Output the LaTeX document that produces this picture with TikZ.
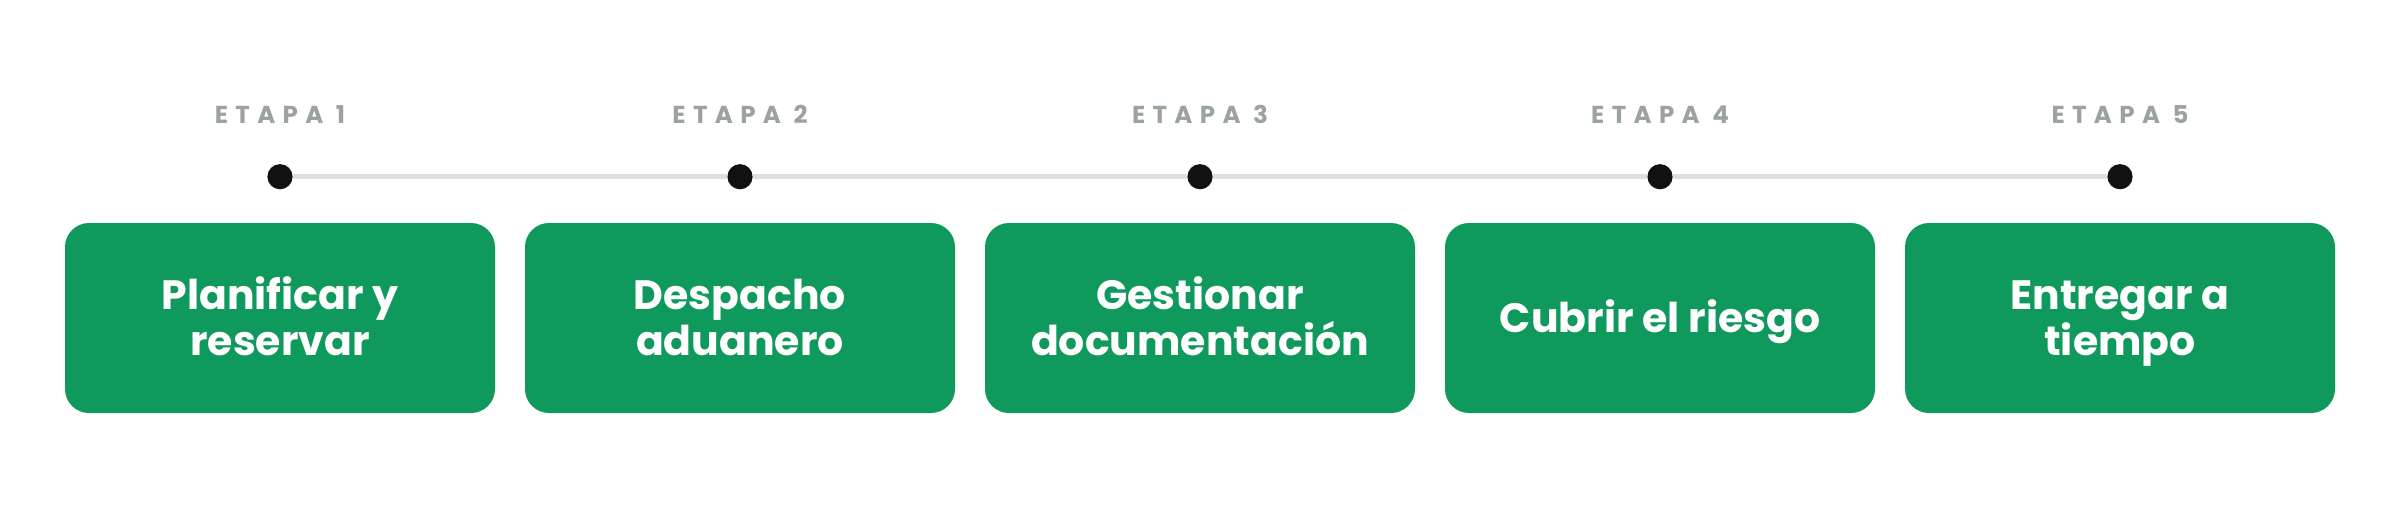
\documentclass[tikz,border=0pt]{standalone}
\usepackage{fontspec}
\setmainfont{Poppins}
\newfontfamily\etapafont{Poppins}[LetterSpace=30]
\definecolor{boxgreen}{HTML}{10995C}
\definecolor{labelgray}{HTML}{9AA3A0}
\definecolor{linegray}{HTML}{DCE1DF}
\definecolor{dotblack}{HTML}{111111}
\begin{document}
\begin{tikzpicture}[x=1pt,y=-1pt,
  stagebox/.style={fill=boxgreen, rounded corners=24pt, minimum width=430pt, minimum height=190pt,
    inner sep=0pt, text=white, align=center, text depth=0pt,
    font=\bfseries\fontsize{41}{45.7}\selectfont},
  twoline/.style={text height=74pt},
  oneline/.style={text height=28.3pt},
  stagelabel/.style={text=labelgray, inner sep=0pt, text height=17pt, text depth=0pt,
    font=\etapafont\bfseries\fontsize{24.5}{28}\selectfont},
  stagedot/.style={circle, fill=dotblack, minimum size=25.2pt, inner sep=0pt},
  track/.style={draw=linegray, line width=5.3pt}
]
\useasboundingbox (0,0) rectangle (2400,512);
\fill[white] (0,0) rectangle (2400,512);
% boxes
\node[stagebox, twoline] (b1) at (280,318) {Planificar y\\reservar};
\node[stagebox, twoline] (b2) at (740,318) {Despacho\\aduanero};
\node[stagebox, twoline] (b3) at (1200,318) {Gestionar\\documentación};
\node[stagebox, oneline] (b4) at (1660,318) {Cubrir el riesgo};
\node[stagebox, twoline] (b5) at (2120,318) {Entregar a\\tiempo};
% dots
\node[stagedot] (d1) at (280,176.7) {};
\node[stagedot] (d2) at (740,176.7) {};
\node[stagedot] (d3) at (1200,176.7) {};
\node[stagedot] (d4) at (1660,176.7) {};
\node[stagedot] (d5) at (2120,176.7) {};
\draw[track] (d1.east) -- (d2.west);
\draw[track] (d2.east) -- (d3.west);
\draw[track] (d3.east) -- (d4.west);
\draw[track] (d4.east) -- (d5.west);
% labels
\node[stagelabel] (l1) at (280,115) {ETAPA 1};
\node[stagelabel] (l2) at (740,115) {ETAPA 2};
\node[stagelabel] (l3) at (1200,115) {ETAPA 3};
\node[stagelabel] (l4) at (1660,115) {ETAPA 4};
\node[stagelabel] (l5) at (2120,115) {ETAPA 5};
\end{tikzpicture}
\end{document}
